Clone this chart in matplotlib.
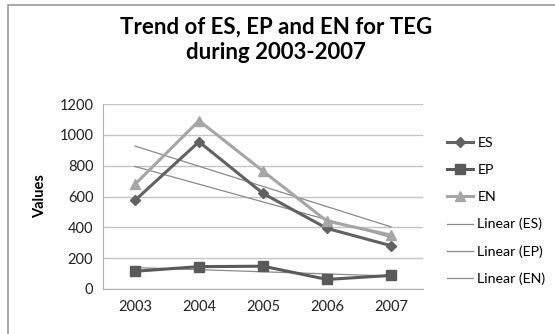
import matplotlib.pyplot as plt
import numpy as np
from matplotlib.patches import Rectangle

years = ["2003", "2004", "2005", "2006", "2007"]
es = [575, 955, 620, 393, 281]
ep = [115, 145, 148, 62, 88]
en = [679, 1092, 765, 440, 350]

plt.rcParams["font.family"] = ["Lato", "DejaVu Sans"]

fig = plt.figure(figsize=(5.55, 3.34), dpi=100)
fig.patches.append(Rectangle((8 / 555, -0.1), 1.2, 1 - 5 / 334 + 0.1,
                             transform=fig.transFigure, fill=False,
                             edgecolor="#9a9a9a", linewidth=1.2))

ax = fig.add_axes([103 / 555, 45 / 334, 320 / 555, 185 / 334])
x = np.arange(len(years))

series = [
    ("ES", es, "D", 5, "#626262"),
    ("EP", ep, "s", 7, "#5a5a5a"),
    ("EN", en, "^", 7, "#a6a6a6"),
]
for name, vals, mk, ms, col in series:
    ax.plot(x, vals, color=col, linewidth=2.2, marker=mk, markersize=ms,
            label=name, zorder=3)

# linear trend lines
for name, vals, mk, ms, col in series:
    k, b = np.polyfit(x, vals, 1)
    ax.plot(x, k * x + b, color="#8a8a8a", linewidth=0.9,
            label=f"Linear ({name})", zorder=2)

ax.set_xlim(-0.5, len(years) - 0.5)
ax.set_ylim(0, 1200)
ax.set_yticks(range(0, 1201, 200))
ax.set_xticks(x)
ax.set_xticklabels(years)
ax.yaxis.grid(True, color="#c4c4c4", linewidth=1)
ax.set_axisbelow(True)
for side in ["top", "right"]:
    ax.spines[side].set_visible(False)
for side in ["left", "bottom"]:
    ax.spines[side].set_color("#b0b0b0")
ax.tick_params(length=0, labelsize=10.5, colors="#222222", pad=7)
ax.tick_params(axis="x", pad=8)
ax.set_ylabel("Values", fontsize=10.5, fontweight="bold", labelpad=9)

ax.legend(loc="upper left", bbox_to_anchor=(1.075, 0.82), frameon=False,
          fontsize=10.2, handlelength=1.85, handletextpad=0.3,
          labelspacing=1.05, borderaxespad=0, borderpad=0)

fig.text(0.498, 0.88, "Trend of ES, EP and EN for TEG\nduring 2003-2007",
         ha="center", va="center", fontsize=16, fontweight="bold",
         linespacing=1.25)

fig.savefig("out.png", dpi=100, facecolor="white")
